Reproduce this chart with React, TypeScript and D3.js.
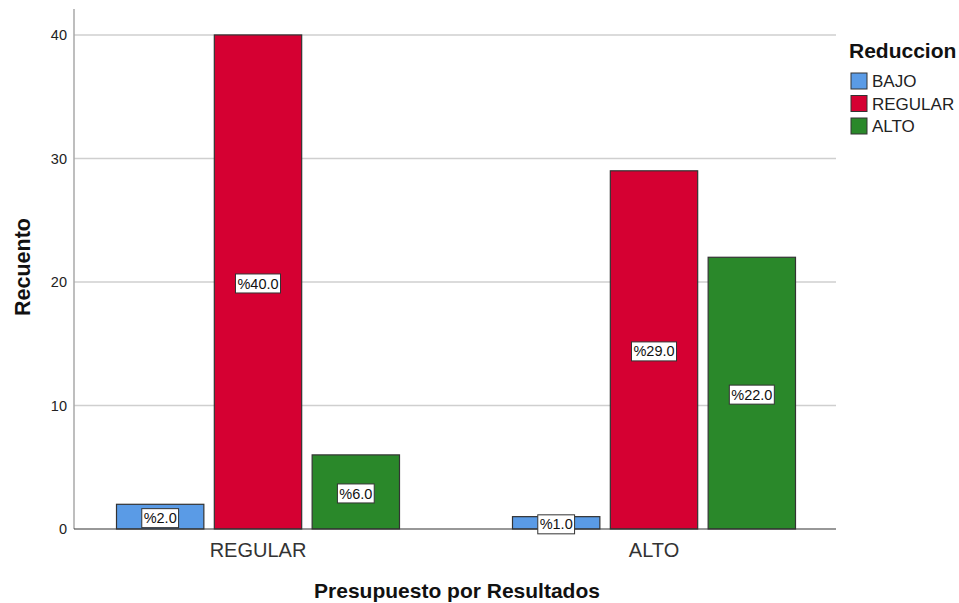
import React from "react";
import * as d3 from "d3";

const categories = ["REGULAR", "ALTO"];
const seriesNames = ["BAJO", "REGULAR", "ALTO"];
const bajoValues = [2, 1];
const regularValues = [40, 29];
const altoValues = [6, 22];
const pctLabels = [
  ["%2.0", "%40.0", "%6.0"],
  ["%1.0", "%29.0", "%22.0"],
];
const yTicks = [0, 10, 20, 30, 40];
const colors = ["#5A9BE6", "#D50032", "#2A882A"];

const W = 959;
const H = 603;
const FONT = "Liberation Sans, Arial, sans-serif";

export default function App() {
  const plotLeft = 74;
  const plotRight = 836;
  const plotTop = 9;
  const plotBottom = 529;

  const y = d3.scaleLinear().domain([0, 42.1]).range([plotBottom, plotTop]);
  const x = d3.scaleBand<string>().domain(categories).range([60, 852]).padding(0);
  const inner = d3
    .scaleBand<string>()
    .domain(seriesNames)
    .range([x.bandwidth() / 2 - 141.5, x.bandwidth() / 2 + 141.5])
    .paddingInner(0.107)
    .paddingOuter(0);

  const seriesValues = [bajoValues, regularValues, altoValues];
  const labelFont = 14.5;

  return (
    <svg width={W} height={H} style={{ position: "absolute", left: 0, top: 0, background: "#fff" }} fontFamily={FONT}>
      {/* gridlines */}
      {yTicks.filter((t) => t > 0).map((t) => (
        <line key={t} x1={plotLeft} x2={plotRight} y1={y(t)} y2={y(t)} stroke="#cfcfcf" strokeWidth={1.5} />
      ))}
      {/* y axis */}
      <line x1={plotLeft} x2={plotLeft} y1={plotTop} y2={plotBottom} stroke="#a8a8a8" strokeWidth={1.5} />
      {yTicks.map((t) => (
        <text key={t} x={plotLeft - 7} y={y(t)} dy="0.35em" textAnchor="end" fontSize={14.5} fill="#222">
          {t}
        </text>
      ))}
      {/* bars */}
      {categories.map((c, ci) => (
        <g key={c} transform={`translate(${x(c)},0)`}>
          {seriesNames.map((s, si) => {
            const v = seriesValues[si][ci];
            const bx = inner(s)!;
            const bw = inner.bandwidth();
            return (
              <rect key={s} x={bx} y={y(v)} width={bw} height={y(0) - y(v)} fill={colors[si]} stroke="#333" strokeWidth={1.2} />
            );
          })}
        </g>
      ))}
      {/* x axis line */}
      <line x1={plotLeft} x2={plotRight} y1={plotBottom} y2={plotBottom} stroke="#333" strokeWidth={1.2} />
      {/* labels */}
      {categories.map((c, ci) => (
        <g key={c + "l"} transform={`translate(${x(c)},0)`}>
          {seriesNames.map((s, si) => {
            const v = seriesValues[si][ci];
            const cx = inner(s)! + inner.bandwidth() / 2;
            const cy = y(v / 2) + 1.5;
            const label = pctLabels[ci][si];
            const tw = label.length * 8.2 + 4;
            return (
              <g key={s}>
                <rect x={cx - tw / 2} y={cy - 9.5} width={tw} height={19} fill="#fff" stroke="#333" strokeWidth={1} />
                <text x={cx} y={cy} dy="0.35em" textAnchor="middle" fontSize={labelFont} fill="#111">
                  {label}
                </text>
              </g>
            );
          })}
        </g>
      ))}
      {/* x tick labels */}
      {categories.map((c) => (
        <text key={c} x={x(c)! + x.bandwidth() / 2} y={550} dy="0.35em" textAnchor="middle" fontSize={20} fill="#333">
          {c}
        </text>
      ))}
      {/* axis titles */}
      <text x={457} y={591} dy="0.35em" textAnchor="middle" fontSize={21} fontWeight="bold" fill="#111">
        Presupuesto por Resultados
      </text>
      <text transform="translate(22,267) rotate(-90)" dy="0.35em" textAnchor="middle" fontSize={21.5} fontWeight="bold" fill="#111">
        Recuento
      </text>
      {/* legend */}
      <text x={849} y={51} dy="0.35em" fontSize={21} fontWeight="bold" fill="#111">
        Reduccion
      </text>
      {seriesNames.map((s, i) => (
        <g key={s} transform={`translate(851,${73 + i * 22.5})`}>
          <rect x={0} y={0} width={16} height={16} fill={colors[i]} stroke="#333" strokeWidth={1} />
          <text x={21} y={8.5} dy="0.35em" fontSize={17} fill="#222">
            {s}
          </text>
        </g>
      ))}
    </svg>
  );
}
